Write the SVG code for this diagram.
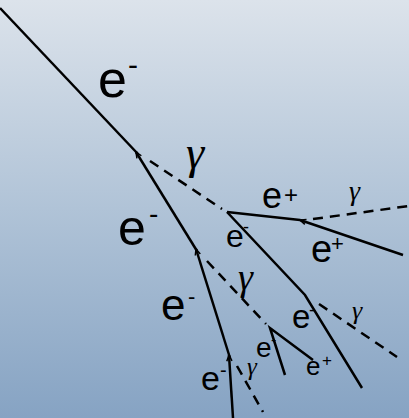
<svg xmlns="http://www.w3.org/2000/svg" width="409" height="418" viewBox="0 0 409 418">
<defs>
<linearGradient id="bg" x1="0" y1="0" x2="0" y2="1">
<stop offset="0" stop-color="#dce3eb"/>
<stop offset="0.5" stop-color="#b0c3d7"/>
<stop offset="1" stop-color="#86a3c3"/>
</linearGradient>
<marker id="tick" markerUnits="userSpaceOnUse" markerWidth="12" markerHeight="12" refX="0" refY="0" viewBox="-2 -6 12 12" orient="auto" overflow="visible">
<path d="M6,-2.6 L0,0 L6,2.6" fill="none" stroke="#000" stroke-width="1.5"/>
</marker>
</defs>
<style>
.e{stroke:#000;stroke-width:2.5;fill:none;stroke-linecap:butt}
.g{stroke:#000;stroke-width:2.5;fill:none;stroke-dasharray:10 7}
.t{font-family:"Liberation Sans","Noto Sans",sans-serif;fill:#000}
.y{font-family:"Liberation Serif","DejaVu Serif",serif;font-style:italic;fill:#000}
</style>
<rect width="409" height="418" fill="url(#bg)"/>
<g id="connectors">
<line class="e" x1="0" y1="8" x2="138" y2="154"/>
<line class="g" x1="150" y1="161" x2="222" y2="209"/>
<line class="e" x1="136" y1="152" x2="197" y2="251" marker-start="url(#tick)"/>
<line class="e" x1="227" y1="212" x2="300" y2="220"/>
<polyline class="e" points="227,212 305,295 362,388"/>
<line class="e" x1="300" y1="220" x2="403" y2="255" marker-start="url(#tick)"/>
<line class="g" x1="313" y1="219" x2="409" y2="206"/>
<line class="g" x1="319" y1="304" x2="397" y2="357"/>
<line class="g" x1="207" y1="261" x2="266" y2="324"/>
<line class="e" x1="196" y1="249" x2="230" y2="358" marker-start="url(#tick)"/>
<polyline class="e" points="285,375 270,328 313,360"/>
<line class="e" x1="229" y1="355" x2="233" y2="418" marker-start="url(#tick)"/>
<line class="g" x1="237" y1="366" x2="263" y2="412"/>
</g>
<g id="labels">
<g id="l1"><text class="t" x="98" y="97" font-size="52">e</text><text class="t" x="128" y="75" font-size="30">-</text></g>
<g id="l2"><text class="t" x="118" y="245" font-size="50">e</text><text class="t" x="149" y="223" font-size="28">-</text></g>
<g id="l3"><text class="t" x="161" y="320" font-size="44">e</text><text class="t" x="188" y="304" font-size="22">-</text></g>
<g id="l4"><text class="t" x="262" y="208" font-size="36">e</text><text class="t" x="284" y="203" font-size="24">+</text></g>
<g id="l5"><text class="t" x="226" y="247" font-size="32">e</text><text class="t" x="243" y="233" font-size="18">-</text></g>
<g id="l6"><text class="t" x="311" y="262" font-size="38">e</text><text class="t" x="331" y="251" font-size="22">+</text></g>
<g id="l7"><text class="t" x="292" y="328" font-size="33">e</text><text class="t" x="309" y="316" font-size="18">-</text></g>
<g id="l8"><text class="t" x="256" y="357" font-size="28">e</text><text class="t" x="271" y="345" font-size="16">-</text></g>
<g id="l9"><text class="t" x="306" y="375" font-size="26">e</text><text class="t" x="322" y="366" font-size="17">+</text></g>
<g id="l10"><text class="t" x="201" y="390" font-size="34">e</text><text class="t" x="220" y="377" font-size="20">-</text></g>
<g id="g1"><text class="y" x="186" y="168" font-size="46">γ</text></g>
<g id="g2"><text class="y" x="349" y="200" font-size="28">γ</text></g>
<g id="g3"><text class="y" x="238" y="290" font-size="38">γ</text></g>
<g id="g4"><text class="y" x="352" y="319" font-size="26">γ</text></g>
<g id="g5"><text class="y" x="247" y="375" font-size="25">γ</text></g>
</g>
</svg>
